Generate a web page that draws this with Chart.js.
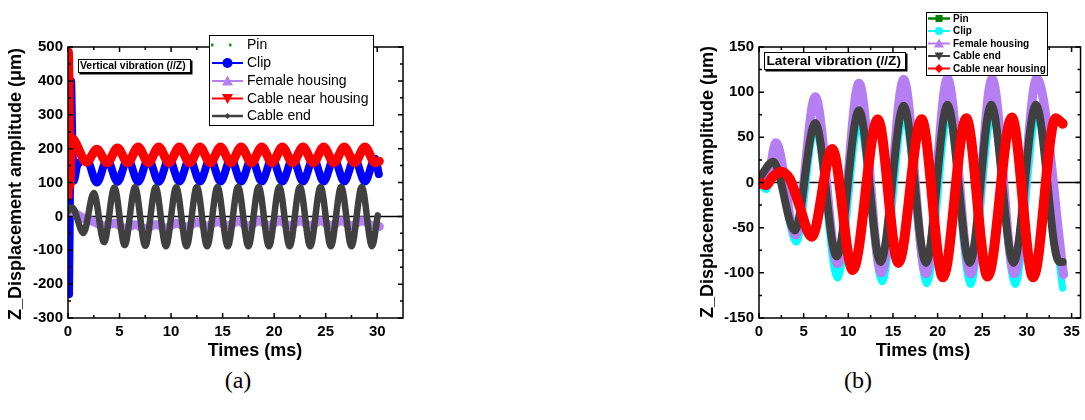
<!DOCTYPE html>
<html>
<head>
<meta charset="utf-8">
<script src="https://cdn.jsdelivr.net/npm/chart.js@4.4.1/dist/chart.umd.min.js"></script>
<style>
  html, body { margin: 0; padding: 0; }
  body { width: 1085px; height: 420px; background: #fff; position: relative; overflow: hidden; }
  #boxA { position: absolute; left: 0; top: 0; width: 410px; height: 365px; }
  #boxB { position: absolute; left: 690px; top: 0; width: 395px; height: 365px; }
  .cap { position: absolute; top: 368px; width: 60px; height: 24px; line-height: 24px; text-align: center;
         font-family: 'Liberation Serif', 'Times New Roman', serif; font-size: 24px; color: #000; }
</style>
</head>
<body>
<div id="boxA"><canvas id="chartA" width="410" height="365"></canvas></div>
<div id="boxB"><canvas id="chartB" width="395" height="365"></canvas></div>
<div class="cap" style="left:208px">(a)</div>
<div class="cap" style="left:828px">(b)</div>
<script>
// ---------- (a) Vertical vibration (//Z) ----------
var xTicksA = [0, 5, 10, 15, 20, 25, 30];
var yTicksA = [-300, -200, -100, 0, 100, 200, 300, 400, 500];

var clipA_t = [0, 0.1, 0.2, 0.3, 0.4, 0.55, 0.9, 1.8, 2.8, 3.8, 4.8, 5.8, 6.8, 7.8, 8.8, 9.8, 10.8, 11.8, 12.8, 13.8, 14.8, 15.8, 16.8, 17.8, 18.8, 19.8, 20.8, 21.8, 22.8, 23.8, 24.8, 25.8, 26.8, 27.8, 28.8, 29.8, 30.15];
var clipA_v = [-40, -230, 120, 400, 250, 105, 150, 168, 100, 168, 102, 170, 102, 170, 102, 170, 103, 170, 103, 170, 103, 170, 103, 170, 103, 170, 103, 170, 103, 170, 103, 170, 103, 170, 103, 170, 125];
// pin is hidden under the clip trace in (a)
var pinA_t = clipA_t;
var pinA_v = clipA_v;

var femaleA_t = [0, 0.5, 1.5, 2.5, 3.5, 4.5, 5.5, 6.5, 7.5, 8.5, 9.5, 10.5, 11.5, 12.5, 13.5, 14.5, 15.5, 16.5, 17.5, 18.5, 19.5, 20.5, 21.5, 22.5, 23.5, 24.5, 25.5, 26.5, 27.5, 28.5, 29.5, 30.2];
var femaleA_v = [20, 12, -5, -16, -28, -20, -35, -25, -36, -24, -34, -20, -31, -17, -29, -15, -28, -14, -28, -13, -27, -13, -27, -13, -27, -13, -27, -13, -27, -13, -27, -30];

var nearA_t = [0, 0.04, 0.1, 0.18, 0.28, 0.45, 0.7, 1.8, 2.8, 3.8, 4.8, 5.8, 6.8, 7.8, 8.8, 9.8, 10.8, 11.8, 12.8, 13.8, 14.8, 15.8, 16.8, 17.8, 18.8, 19.8, 20.8, 21.8, 22.8, 23.8, 24.8, 25.8, 26.8, 27.8, 28.8, 29.8, 30.2];
var nearA_v = [60, 485, 360, 90, 180, 230, 220, 160, 198, 158, 202, 158, 205, 158, 205, 158, 205, 158, 205, 158, 205, 158, 205, 158, 205, 158, 205, 158, 205, 158, 205, 158, 205, 158, 205, 158, 163];

var endA_t = [0, 0.4, 1.5, 2.5, 3.5, 4.5, 5.5, 6.5, 7.5, 8.5, 9.5, 10.5, 11.5, 12.5, 13.5, 14.5, 15.5, 16.5, 17.5, 18.5, 19.5, 20.5, 21.5, 22.5, 23.5, 24.5, 25.5, 26.5, 27.5, 28.5, 29.5, 30.05];
var endA_v = [15, 26, -49, 69, -76, 85, -85, 86, -87, 86, -88, 86, -88, 87, -88, 87, -88, 87, -88, 87, -88, 87, -88, 87, -88, 87, -88, 87, -88, 87, -88, 3];

// ---------- (b) Lateral vibration (//Z) ----------
var xTicksB = [0, 5, 10, 15, 20, 25, 30, 35];
var yTicksB = [-150, -100, -50, 0, 50, 100, 150];

var endB_t = [0, 1.6, 4.0, 6.3, 8.7, 11.2, 13.6, 16.2, 18.7, 21.1, 23.6, 26.0, 28.5, 31.0, 33.6, 34.0];
var endB_v = [4, 23, -53, 66, -82, 80, -88, 85, -89, 86, -89, 86, -89, 86, -88, -88];
// pin sits under the cable end trace in (b)
var pinB_t = endB_t;
var pinB_v = endB_v;

var clipB_t = [0, 0.8, 1.8, 4.2, 6.3, 8.8, 11.2, 13.8, 16.2, 18.8, 21.2, 23.7, 26.1, 28.7, 31.1, 34.0];
var clipB_v = [0, -8, 20, -66, 60, -106, 65, -110, 74, -112, 75, -113, 75, -113, 75, -117];

var femaleB_t = [0, 0.8, 1.9, 4.1, 6.3, 8.8, 11.2, 13.7, 16.2, 18.7, 21.1, 23.7, 26.1, 28.6, 31.1, 34.1];
var femaleB_v = [5, -3, 44, -58, 95, -90, 110, -100, 114, -101, 115, -101, 115, -101, 115, -102];

var nearB_t = [0, 0.8, 1.5, 2.5, 3.5, 4.4, 5.9, 8.2, 10.5, 13.3, 15.6, 18.2, 20.6, 23.2, 25.6, 28.3, 30.7, 33.2, 34.0];
var nearB_v = [0, -3, 6, 12, 3, -22, -60, 37, -97, 70, -89, 70, -105, 71, -104, 72, -105, 71, 65];

var SANS = "'Liberation Sans', Arial, sans-serif";

function pts(t, v) {
  return t.map(function (x, i) { return { x: x, y: v[i] }; });
}

function series(label, t, v, color, width, order) {
  return {
    label: label, data: pts(t, v), borderColor: color, backgroundColor: color,
    borderWidth: width, pointRadius: 0, pointHoverRadius: 0, fill: false,
    cubicInterpolationMode: 'monotone', borderJoinStyle: 'round', borderCapStyle: 'round',
    order: order
  };
}

function marker(ctx, kind, x, y, r, color) {
  ctx.fillStyle = color;
  ctx.beginPath();
  if (kind === 'circle') ctx.arc(x, y, r, 0, Math.PI * 2);
  if (kind === 'square') ctx.rect(x - r, y - r, 2 * r, 2 * r);
  if (kind === 'up') { ctx.moveTo(x, y - r); ctx.lineTo(x + r, y + r * 0.8); ctx.lineTo(x - r, y + r * 0.8); }
  if (kind === 'down') { ctx.moveTo(x, y + r); ctx.lineTo(x + r, y - r * 0.8); ctx.lineTo(x - r, y - r * 0.8); }
  if (kind === 'diamond') { ctx.moveTo(x, y - r); ctx.lineTo(x + r, y); ctx.lineTo(x, y + r); ctx.lineTo(x - r, y); }
  ctx.closePath();
  ctx.fill();
}

function minors(major, max) {
  var out = [];
  for (var i = 0; i < major.length; i++) {
    var m = major[i] + (major[1] - major[0]) / 2;
    if (m < max) out.push(m);
  }
  return out;
}

// frame, inward ticks, zero line, notes, legend and titles
function panelPlugin(cfg) {
  return {
    id: 'panel',
    beforeDatasetsDraw: function (chart) {
      var ctx = chart.ctx, a = chart.chartArea, y0 = chart.scales.y.getPixelForValue(0);
      ctx.save();
      ctx.strokeStyle = '#000';
      ctx.lineWidth = 1.5;
      ctx.beginPath(); ctx.moveTo(a.left, y0); ctx.lineTo(a.right, y0); ctx.stroke();
      ctx.restore();
    },
    afterDatasetsDraw: function (chart) {
      var ctx = chart.ctx, a = chart.chartArea, xs = chart.scales.x, ys = chart.scales.y;
      ctx.save();
      ctx.strokeStyle = '#000';
      ctx.lineWidth = 1.5;
      ctx.strokeRect(a.left, a.top, a.right - a.left, a.bottom - a.top);
      ctx.beginPath();
      function tx(v, len) { var p = xs.getPixelForValue(v); ctx.moveTo(p, a.bottom); ctx.lineTo(p, a.bottom - len); ctx.moveTo(p, a.top); ctx.lineTo(p, a.top + len); }
      function ty(v, len) { var p = ys.getPixelForValue(v); ctx.moveTo(a.left, p); ctx.lineTo(a.left + len, p); ctx.moveTo(a.right, p); ctx.lineTo(a.right - len, p); }
      cfg.xTicks.forEach(function (v) { tx(v, 5); });
      minors(cfg.xTicks, xs.max).forEach(function (v) { tx(v, 3); });
      cfg.yTicks.forEach(function (v) { ty(v, 5); });
      minors(cfg.yTicks, ys.max).forEach(function (v) { ty(v, 3); });
      ctx.stroke();

      // note box
      var n = cfg.note;
      ctx.fillStyle = '#000';
      ctx.fillRect(n.x + 1.5, n.y + 1.5, n.w, n.h);
      ctx.fillStyle = '#fff';
      ctx.fillRect(n.x, n.y, n.w, n.h);
      ctx.lineWidth = 1;
      ctx.strokeRect(n.x + 0.5, n.y + 0.5, n.w - 1, n.h - 1);
      ctx.fillStyle = '#000';
      ctx.font = n.font;
      ctx.textBaseline = 'middle';
      ctx.textAlign = 'left';
      ctx.fillText(n.text, n.tx, n.y + n.h / 2 + 0.5);

      // legend
      var L = cfg.legend;
      ctx.fillStyle = '#fff';
      ctx.fillRect(L.x, L.y, L.w, L.h);
      ctx.strokeStyle = '#000';
      ctx.lineWidth = 1;
      ctx.strokeRect(L.x + 0.5, L.y + 0.5, L.w - 1, L.h - 1);
      ctx.font = L.font;
      L.items.forEach(function (it, i) {
        var y = L.rows[i], ds = chart.data.datasets[it.ds];
        if (it.dots) {
          ctx.fillStyle = it.color;
          it.dots.forEach(function (dx) { ctx.fillRect(dx - 1, y - 1.5, 2.5, 3); });
        } else {
          ctx.strokeStyle = it.color;
          ctx.lineWidth = it.lw;
          ctx.beginPath(); ctx.moveTo(L.x0, y); ctx.lineTo(L.x1, y); ctx.stroke();
          marker(ctx, it.kind, (L.x0 + L.x1) / 2, y, it.r, it.color);
        }
        ctx.fillStyle = '#000';
        ctx.fillText(ds.label, L.tx, y + 0.5);
      });

      // axis titles
      ctx.font = 'bold 18px ' + SANS;
      ctx.textAlign = 'center';
      ctx.fillText('Times (ms)', cfg.xTitle[0], cfg.xTitle[1]);
      ctx.translate(cfg.yTitle[0], cfg.yTitle[1]);
      ctx.rotate(-Math.PI / 2);
      ctx.fillText('Z_Displacement amplitude (\u03bcm)', 0, 0);
      ctx.restore();
    }
  };
}

function axes(xmin, xmax, xTicks, ymin, ymax, yTicks, yw) {
  var tickFont = { family: SANS, size: 15, weight: 'bold' };
  return {
    x: {
      type: 'linear', min: xmin, max: xmax,
      grid: { display: false, drawTicks: false }, border: { display: false },
      ticks: { font: tickFont, color: '#000', padding: 5, autoSkip: false, maxRotation: 0 },
      afterBuildTicks: function (s) { s.ticks = xTicks.map(function (v) { return { value: v }; }); },
      afterFit: function (s) { s.height = 47; }
    },
    y: {
      type: 'linear', min: ymin, max: ymax,
      grid: { display: false, drawTicks: false }, border: { display: false },
      ticks: { font: tickFont, color: '#000', padding: 5, autoSkip: false },
      afterBuildTicks: function (s) { s.ticks = yTicks.map(function (v) { return { value: v }; }); },
      afterFit: function (s) { s.width = yw; }
    }
  };
}

var baseOptions = function (scales, padRight) {
  return {
    responsive: false, animation: false, events: [],
    layout: { padding: { top: 47, right: padRight, left: 0, bottom: 0 } },
    plugins: { legend: { display: false }, tooltip: { enabled: false } },
    scales: scales
  };
};

var violet = '#B57EF2', grey = '#404040';

// (a)
new Chart(document.getElementById('chartA').getContext('2d'), {
  type: 'line',
  data: {
    datasets: [
      series('Pin', pinA_t, pinA_v, '#1A9A1A', 2, 4),
      series('Clip', clipA_t, clipA_v, '#0000FF', 8, 3),
      series('Female housing', femaleA_t, femaleA_v, violet, 9, 2),
      series('Cable near housing', nearA_t, nearA_v, '#FF0000', 9, 1),
      series('Cable end', endA_t, endA_v, grey, 6.5, 0)
    ]
  },
  options: baseOptions(axes(0, 32.5, xTicksA, -300, 500, yTicksA, 68), 7),
  plugins: [panelPlugin({
    xTicks: xTicksA, yTicks: yTicksA,
    xTitle: [255, 351], yTitle: [16, 184],
    note: { text: 'Vertical vibration (//Z)', x: 78, y: 59, w: 113, h: 14, tx: 80, font: 'bold 10.4px ' + SANS },
    legend: {
      x: 209, y: 35, w: 165, h: 91, x0: 212, x1: 243, tx: 247, font: '14px ' + SANS,
      rows: [45, 63, 81, 98.5, 116],
      items: [
        { ds: 0, color: '#1A9A1A', dots: [212, 230] },
        { ds: 1, color: '#0000FF', lw: 2, kind: 'circle', r: 5 },
        { ds: 2, color: violet, lw: 2, kind: 'up', r: 5.5 },
        { ds: 3, color: '#FF0000', lw: 2, kind: 'down', r: 5.5 },
        { ds: 4, color: grey, lw: 2.5, kind: 'diamond', r: 3 }
      ]
    }
  })]
});

// (b)
new Chart(document.getElementById('chartB').getContext('2d'), {
  type: 'line',
  data: {
    datasets: [
      series('Pin', pinB_t, pinB_v, '#007F00', 6, 4),
      series('Clip', clipB_t, clipB_v, '#00FFFF', 7, 3),
      series('Female housing', femaleB_t, femaleB_v, violet, 9, 2),
      series('Cable end', endB_t, endB_v, grey, 8, 1),
      series('Cable near housing', nearB_t, nearB_v, '#FF0000', 10, 0)
    ]
  },
  options: baseOptions(axes(0, 36, xTicksB, -150, 150, yTicksB, 69), 2),
  plugins: [panelPlugin({
    xTicks: xTicksB, yTicks: yTicksB,
    xTitle: [233, 351], yTitle: [18.5, 182],
    note: { text: 'Lateral vibration (//Z)', x: 74, y: 52, w: 142, h: 18, tx: 76.5, font: 'bold 13.6px ' + SANS },
    legend: {
      x: 236, y: 12, w: 122, h: 64, x0: 238, x1: 260, tx: 263, font: 'bold 10px ' + SANS,
      rows: [18.5, 31, 43.5, 56, 68.5],
      items: [
        { ds: 0, color: '#007F00', lw: 2.5, kind: 'square', r: 3.5 },
        { ds: 1, color: '#00FFFF', lw: 2, kind: 'circle', r: 4 },
        { ds: 2, color: violet, lw: 2, kind: 'up', r: 5 },
        { ds: 3, color: grey, lw: 2, kind: 'down', r: 4.5 },
        { ds: 4, color: '#FF0000', lw: 2, kind: 'diamond', r: 4.5 }
      ]
    }
  })]
});
</script>
</body>
</html>
